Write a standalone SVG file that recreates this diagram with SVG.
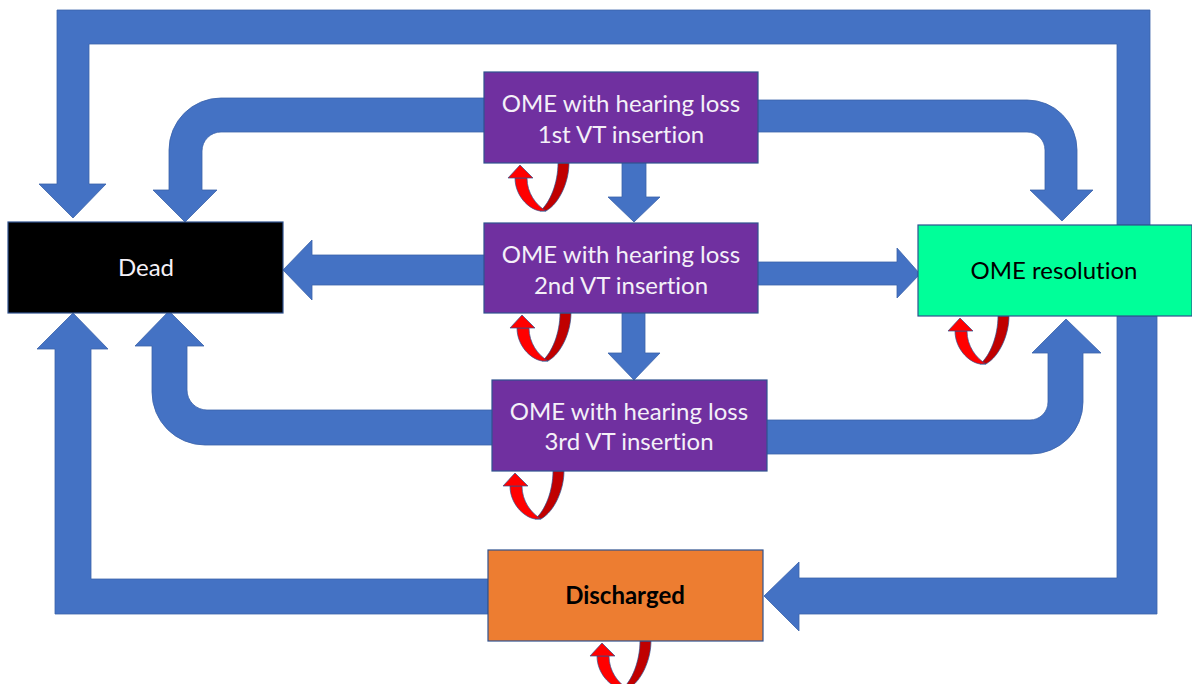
<svg xmlns="http://www.w3.org/2000/svg" xmlns:xlink="http://www.w3.org/1999/xlink" width="1192" height="684" viewBox="0 0 1192 684">
<style>
.arr{fill:#4472C4;stroke:#3A62AA;stroke-width:0.8}
.box{stroke:#2F528F;stroke-width:1.2}
.t{font-family:Lato,"Liberation Sans",sans-serif;font-size:24px;text-anchor:middle;font-variant-ligatures:none}
.w{fill:#F4F0F8}
.k{fill:#000000}
</style>
<defs>
<g id="loop">
<path d="M38,0 L49,0 C49,18 40,40 26,48 L20,48 C30,40 38,20 38,0 Z" fill="#C00000" stroke="#2F528F" stroke-width="0.7"/>
<path d="M-5,15 C-5,32 8,46 20,48 L26,48 C16,42 7,30 7,15 Z" fill="#FF0000" stroke="#2F528F" stroke-width="0.7"/>
<path d="M0,2 L13,15 L-12,15 Z" fill="#FF0000" stroke="#2F528F" stroke-width="0.7"/>
</g>
</defs>
<g id="connectors">
<path class="arr" d="M1150,225 L1150,10 L57,10 L57,184 L39,184 L73,218 L106,184 L89,184 L89,44 L1117,44 L1117,225 Z"/>
<path class="arr" d="M1117,316 L1117,578 L799,578 L799,562 L764,596 L799,631 L799,614 L1157,614 L1157,316 Z"/>
<path class="arr" d="M488,579 L91,579 L91,349 L108,349 L73,313 L37,349 L55,349 L55,614 L488,614 Z"/>
<path class="arr" d="M486,98 L221,98 A52,52 0 0 0 169,150 L169,190 L153,190 L185,222 L217,190 L202,190 L202,151 A19,19 0 0 1 221,132 L486,132 Z"/>
<path class="arr" d="M756,100 L1027,100 A50,50 0 0 1 1077,150 L1077,190 L1093,190 L1062,221 L1030,190 L1045,190 L1045,150 A18,18 0 0 0 1027,132 L756,132 Z"/>
<path class="arr" d="M495,410 L207,410 A20,20 0 0 1 187,390 L187,346 L204,346 L169,311 L135,346 L152,346 L152,392 A53,53 0 0 0 205,445 L495,445 Z"/>
<path class="arr" d="M765,420 L1030,420 A18,18 0 0 0 1048,402 L1048,353 L1032,353 L1066,319 L1101,353 L1083,353 L1083,402 A52,52 0 0 1 1031,454 L765,454 Z"/>
<path class="arr" d="M486,255 L312,255 L312,240 L283,270 L312,300 L312,285 L486,285 Z"/>
<path class="arr" d="M756,262 L897,262 L897,248 L920,274 L897,298 L897,285 L756,285 Z"/>
<path class="arr" d="M622,160 L646,160 L646,197 L660,197 L634,222 L608,197 L622,197 Z"/>
<path class="arr" d="M622,311 L645,311 L645,353 L660,353 L634,380 L608,353 L622,353 Z"/>
<use xlink:href="#loop" x="520" y="163"/>
<use xlink:href="#loop" x="522" y="313"/>
<use xlink:href="#loop" x="515" y="471"/>
<use xlink:href="#loop" x="960" y="316"/>
<use xlink:href="#loop" x="602" y="641"/>
</g>
<g id="node-vt1">
<rect class="box" x="484" y="72" width="274" height="91" fill="#7030A0"/>
<text class="t w" x="621" y="112">OME with hearing loss</text>
<text class="t w" x="621" y="143">1st VT insertion</text>
</g>
<g id="node-vt2">
<rect class="box" x="484" y="223" width="274" height="90" fill="#7030A0"/>
<text class="t w" x="621" y="263">OME with hearing loss</text>
<text class="t w" x="621" y="294">2nd VT insertion</text>
</g>
<g id="node-vt3">
<rect class="box" x="492" y="380" width="275" height="91" fill="#7030A0"/>
<text class="t w" x="629" y="420">OME with hearing loss</text>
<text class="t w" x="629" y="450">3rd VT insertion</text>
</g>
<g id="node-dead">
<rect class="box" x="8" y="222" width="275" height="91" fill="#000000"/>
<text class="t w" x="146" y="276">Dead</text>
</g>
<g id="node-resolution">
<rect class="box" x="918" y="225" width="274" height="91" fill="#00FF99"/>
<text class="t k" x="1054" y="279">OME resolution</text>
</g>
<g id="node-discharged">
<rect class="box" x="488" y="550" width="275" height="91" fill="#ED7D31"/>
<text class="t k" x="625" y="604" font-weight="bold">Discharged</text>
</g>
</svg>
